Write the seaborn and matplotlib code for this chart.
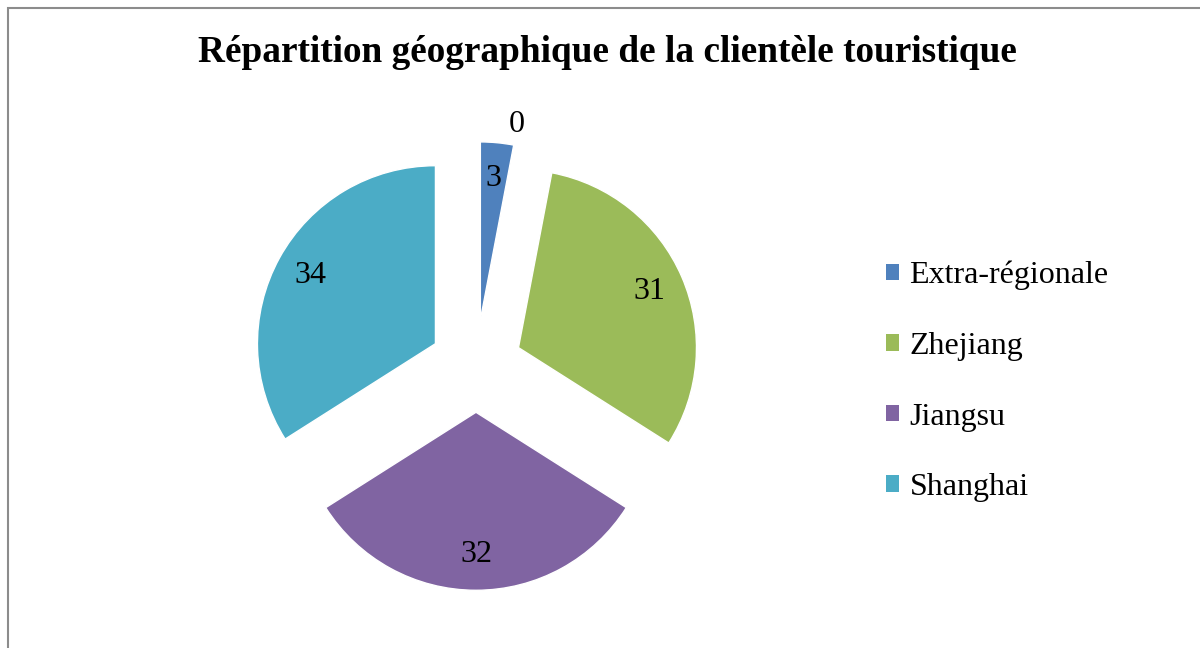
import matplotlib
matplotlib.use("Agg")
import matplotlib.pyplot as plt
import seaborn as sns
from matplotlib.patches import Patch, Rectangle

sns.set_theme(style="white")
plt.rcParams['font.family'] = ['Liberation Serif', 'DejaVu Serif']
plt.rcParams['text.color'] = 'black'

# Data
categories = ['Extra-régionale', 'Zhejiang', 'Jiangsu', 'Shanghai']
values = [3, 31, 32, 34]
extra_label = 0  # stray zero data label shown at the top
colors = ['#4F81BD', '#9BBB59', '#8064A2', '#4BACC6']
title = 'Répartition géographique de la clientèle touristique'

W, H = 1200, 648
fig = plt.figure(figsize=(W / 100, H / 100), dpi=100)

# pie centre (476, 366) px, radius 178 px
cx, cy, R, L = 476, 366, 178, 1.5
ax = fig.add_axes([(cx - L * R) / W, (H - cy - L * R) / H, 2 * L * R / W, 2 * L * R / H])

wedges, texts = ax.pie(values, labels=[str(v) for v in values], colors=colors,
                       startangle=90, counterclock=False, explode=[0.26] * len(values),
                       labeldistance=0.8, frame=False,
                       textprops=dict(fontsize=23, color='black'))
for t in texts:
    t.set_horizontalalignment('center')
    t.set_verticalalignment('center')
ax.text(0.23, 1.354, str(extra_label), fontsize=23, color='black', ha='center', va='center')
ax.set_xlim(-L, L)
ax.set_ylim(-L, L)
ax.set_aspect('auto')
ax.axis('off')

fig.text(607 / W, 1 - 53 / H, title, fontsize=26.8, fontweight='bold', color='black',
         ha='center', va='center')

handles = [Patch(facecolor=c, edgecolor='none') for c in colors]
leg = fig.legend(handles, categories, loc='center left', bbox_to_anchor=(857 / W, 1 - 381.5 / H),
                 frameon=False, fontsize=23, handlelength=0.42, handleheight=0.42,
                 handletextpad=0.32, labelspacing=1.3)
for t in leg.get_texts():
    t.set_color('black')

# chart border (top and left visible)
fig.patches.append(Rectangle((8 / W, -0.05), 1.2, 1 - 8 / H + 0.05, transform=fig.transFigure,
                             fill=False, edgecolor='#8c8c8c', linewidth=1.5))

fig.savefig('out.png', dpi=100, facecolor='white')
